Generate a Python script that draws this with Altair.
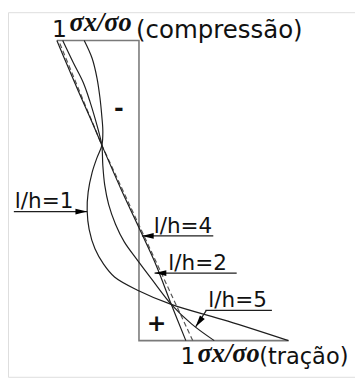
import altair as alt
import pandas as pd

# ---- curves: sigma_x/sigma_o (negative = compression) vs relative height h (0 bottom, 1 top)
LH1_S = [-0.667, -0.571, -0.512, -0.476, -0.452, -0.440, -0.452, -0.512, -0.571, -0.619,
         -0.631, -0.607, -0.536, -0.429, -0.298, -0.024, 0.393, 1.083, 1.821]
LH1_H = [1.000, 0.941, 0.876, 0.811, 0.746, 0.697, 0.651, 0.609, 0.560, 0.495,
         0.433, 0.371, 0.306, 0.254, 0.212, 0.169, 0.121, 0.065, 0.000]

CA_S = [-0.929, -0.798, -0.679, -0.595, -0.524, -0.476, -0.452, -0.440, -0.417, -0.369,
        -0.286, -0.179, -0.024, 0.155, 0.393, 0.643, 0.917]
CA_H = [1.000, 0.925, 0.860, 0.795, 0.730, 0.681, 0.651, 0.583, 0.518, 0.453,
        0.388, 0.329, 0.270, 0.205, 0.121, 0.055, 0.000]

CB_S = [-1.000, -0.869, -0.738, -0.595, -0.452, -0.214, 0.036, 0.214, 0.393, 0.571]
CB_H = [1.000, 0.915, 0.831, 0.743, 0.651, 0.502, 0.355, 0.248, 0.121, 0.000]

LIN_S = [-0.964, -0.452, 0.655]
LIN_H = [0.990, 0.651, 0.000]

BOX_S = [-1.0, 0.0, 0.0, 1.821]
BOX_H = [1.0, 1.0, 0.0, 0.0]

# ---- label annotations
LBL_TEXT = ["l/h=1", "l/h=4", "l/h=2", "l/h=5"]
LBL_S = [-1.512, 0.179, 0.357, 0.845]
LBL_H = [0.443, 0.358, 0.235, 0.111]
UL_S1 = [-1.524, 0.036, 0.190, 0.810]
UL_S2 = [-0.631, 0.905, 1.190, 1.619]
UL_H = [0.430, 0.349, 0.225, 0.101]
TIP_S = [-0.631, 0.036, 0.190, 0.690]
TIP_H = [0.430, 0.349, 0.225, 0.046]
TIP_ANGLE = [0, 180, 180, 125]
LH5_LEAD_S = [0.821, 0.690]
LH5_LEAD_H = [0.101, 0.046]

SIGN_TEXT = ["-", "+"]
SIGN_S = [-0.244, 0.214]
SIGN_H = [0.772, 0.055]

AX_NUM_S = [-1.060, 0.505]
AX_NUM_H = [1.013, -0.078]
AX_SIG_S = [-0.845, 0.714]
AX_SIG_H = [1.033, -0.072]
AX_WORD = ["(compressão)", "(tração)"]
AX_WORD_S = [-0.036, 1.464]
AX_WORD_H = [1.010, -0.078]
AX_WORD_SIZE = [25, 23]


def cdf(name, s, h):
    return pd.DataFrame({"s": s, "h": h, "curve": name, "i": list(range(len(s)))})


solid = pd.concat([cdf("lh1", LH1_S, LH1_H), cdf("A", CA_S, CA_H), cdf("B", CB_S, CB_H)])
lin = cdf("lin", LIN_S, LIN_H)
box = cdf("box", BOX_S, BOX_H)

XS = alt.Scale(domain=[-1.5952, 2.6310], nice=False, zero=False)
YS = alt.Scale(domain=[-0.1205, 1.0945], nice=False, zero=False)
X = alt.X("s:Q", scale=XS, axis=None)
Y = alt.Y("h:Q", scale=YS, axis=None)

INK = "#1e1e1e"
SANS = "DejaVu Sans"

box_l = alt.Chart(box).mark_line(color="#7a7a7a", strokeWidth=1.6).encode(x=X, y=Y, order="i:Q")
solid_l = alt.Chart(solid).mark_line(color=INK, strokeWidth=1.2, interpolate="catmull-rom").encode(
    x=X, y=Y, detail="curve:N", order="i:Q")
lin_l = alt.Chart(lin).mark_line(color="#555", strokeWidth=1.2, strokeDash=[5, 3]).encode(
    x=X, y=Y, order="i:Q")

lbl = pd.DataFrame({"t": LBL_TEXT, "s": LBL_S, "h": LBL_H})
ul = pd.DataFrame({"s": UL_S1, "s2": UL_S2, "h": UL_H})
tips = pd.DataFrame({"s": TIP_S, "h": TIP_H, "a": TIP_ANGLE})
lead = pd.DataFrame({"s": [LH5_LEAD_S[0]], "s2": [LH5_LEAD_S[1]],
                     "h": [LH5_LEAD_H[0]], "h2": [LH5_LEAD_H[1]]})

ul_r = alt.Chart(ul).mark_rule(color=INK, strokeWidth=1.2).encode(x=X, x2="s2:Q", y=Y)
lead_r = alt.Chart(lead).mark_rule(color=INK, strokeWidth=1.2).encode(x=X, x2="s2:Q", y=Y, y2="h2:Q")
tips_p = alt.Chart(tips).mark_point(
    shape="M0,0L-2,-0.5L-2,0.5Z", filled=True, color="#000", opacity=1, size=144, strokeWidth=0
).encode(x=X, y=Y, angle=alt.Angle("a:Q", scale=None))

lbl_t = alt.Chart(lbl).mark_text(align="left", baseline="alphabetic", font=SANS,
                                 fontSize=22, color="#111").encode(x=X, y=Y, text="t:N")

signs = pd.DataFrame({"t": SIGN_TEXT, "s": SIGN_S, "h": SIGN_H})
sign_t = alt.Chart(signs).mark_text(align="center", baseline="middle", font=SANS,
                                    fontSize=24, fontWeight="bold", color="#111").encode(x=X, y=Y, text="t:N")

nums = pd.DataFrame({"t": ["1", "1"], "s": AX_NUM_S, "h": AX_NUM_H})
num_t = alt.Chart(nums).mark_text(align="left", baseline="alphabetic", font=SANS,
                                  fontSize=24, color="#111").encode(x=X, y=Y, text="t:N")
sig = pd.DataFrame({"t": ["σx/σo", "σx/σo"], "s": AX_SIG_S, "h": AX_SIG_H})
sig_t = alt.Chart(sig).mark_text(align="left", baseline="alphabetic", font="Liberation Serif",
                                 fontSize=27, fontStyle="italic", fontWeight="bold",
                                 color="#111").encode(x=X, y=Y, text="t:N")
words = pd.DataFrame({"t": AX_WORD, "s": AX_WORD_S, "h": AX_WORD_H, "fs": AX_WORD_SIZE})
word_t = alt.Chart(words).mark_text(align="left", baseline="alphabetic", font=SANS,
                                    color="#111").encode(
    x=X, y=Y, text="t:N", size=alt.Size("fs:Q", scale=None))

chart = alt.layer(
    box_l, lin_l, solid_l, ul_r, lead_r, tips_p, lbl_t, sign_t, num_t, sig_t, word_t
).properties(
    width=355, height=373, autosize=alt.AutoSizeParams(type="none"), padding=0
).configure_view(stroke=None).configure(background="white")

chart.save("out.html", embed_options={"renderer": "svg", "actions": False})
